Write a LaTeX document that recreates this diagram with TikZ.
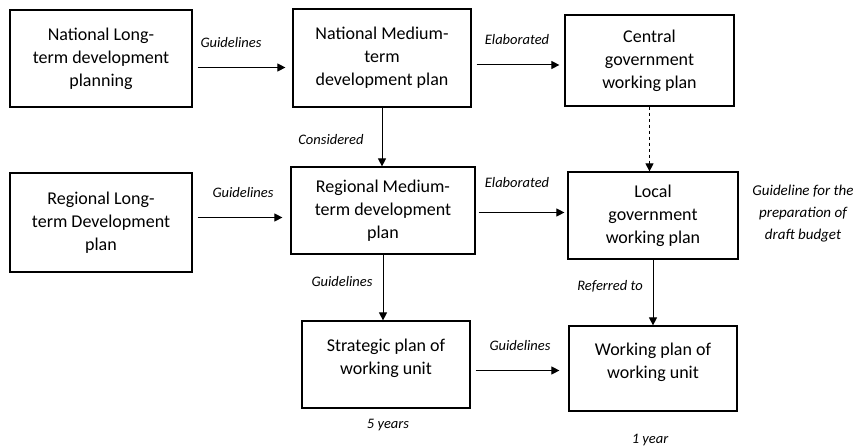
\documentclass[tikz,border=0pt]{standalone}
\usepackage{fontspec}
\setmainfont{Carlito}
\usetikzlibrary{arrows.meta,positioning,calc}

\begin{document}
\begin{tikzpicture}[x=1pt, y=-1pt,
    plan/.style={draw, line width=1.2pt, align=center, font=\fontsize{18}{23}\selectfont, inner sep=2pt},
    lbl/.style={font=\fontsize{14.5}{16}\selectfont\itshape, inner sep=0pt},
    flow/.style={-{Triangle[length=8pt,width=8pt]}, line width=1pt}]
            \useasboundingbox (0,0) rectangle (864,446);

            % Top row
            \node[plan, minimum width=182pt, minimum height=97pt] (natlong) at (101,58.5) {National Long-\\term development\\planning};
            \node[plan, minimum width=178pt, minimum height=98pt] (natmed) at (382,58) {National Medium-\\term\\development plan};
            \node[plan, minimum width=169pt, minimum height=91pt] (central) at (649.5,60.5) {Central\\government\\working plan};

            % Middle row
            \node[plan, minimum width=182pt, minimum height=99pt] (reglong) at (101,222.5) {Regional Long-\\term Development\\plan};
            \node[plan, minimum width=184pt, minimum height=87pt] (regmed) at (383,210.5) {Regional Medium-\\term development\\plan};
            \node[plan, minimum width=170pt, minimum height=87pt] (local) at (653,215.5) {Local\\government\\working plan};

            % Bottom row
            \node[plan, minimum width=168pt, minimum height=87pt, text depth=15pt] (strat) at (386,364.5) {Strategic plan of\\working unit};
            \node[plan, minimum width=168pt, minimum height=85pt, text depth=15pt] (work) at (653,368.5) {Working plan of\\working unit};

            % Arrows
            \draw[flow] ([xshift=5pt,yshift=-9pt]natlong.east) -- ([xshift=-7pt,yshift=-9pt]natlong.east -| natmed.west);
            \draw[flow] ([xshift=5pt,yshift=-7pt]natmed.east) -- ([xshift=-5pt,yshift=-7pt]natmed.east -| central.west);
            \draw[flow] (natmed.south) -- (natmed.south |- regmed.north);
            \draw[flow] ([xshift=5pt,yshift=5pt]reglong.east) -- ([xshift=-8pt,yshift=5pt]reglong.east -| regmed.west);
            \draw[flow] ([xshift=3pt,yshift=-2pt]regmed.east) -- ([xshift=-3pt,yshift=-2pt]regmed.east -| local.west);
            \draw[flow, dashed] (central.south) -- (central.south |- local.north);
            \draw[flow] (regmed.south) -- (regmed.south |- strat.north);
            \draw[flow] (local.south) -- (local.south |- work.north);
            \draw[flow] ([xshift=5pt,yshift=-6pt]strat.east) -- ([xshift=-9pt,yshift=-6pt]strat.east -| work.west);

            % Labels
            \node[lbl] (g1) at (231,43) {Guidelines};
            \node[lbl] (e1) at (517,40) {Elaborated};
            \node[lbl] (c1) at (331,140) {Considered};
            \node[lbl] (g2) at (243,193) {Guidelines};
            \node[lbl] (e2) at (517,183) {Elaborated};
            \node[lbl] (g3) at (342,282) {Guidelines};
            \node[lbl] (r1) at (610,286) {Referred to};
            \node[lbl] (g4) at (520,346) {Guidelines};
            \node[lbl, align=center, font=\fontsize{15}{22}\selectfont\itshape] (budget) at (803,214) {Guideline for the\\preparation of\\draft budget};
            \node[lbl] (five) at (388,425) {5 years};
            \node[lbl] (one) at (650,440) {1 year};
        \end{tikzpicture}
\end{document}
